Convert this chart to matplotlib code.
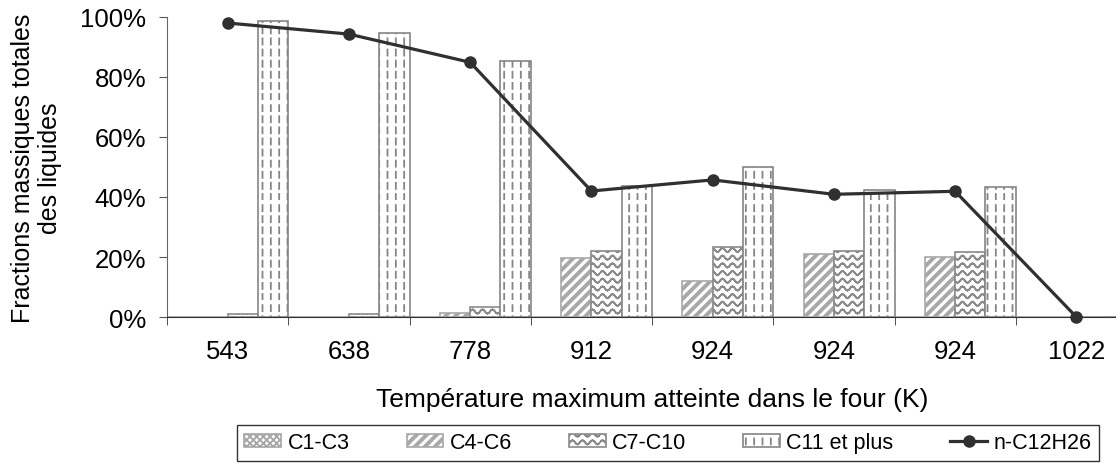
import warnings
import numpy as np
import matplotlib
matplotlib.use('Agg')
from matplotlib import pyplot as plt
from matplotlib import hatch as mhatch
from matplotlib.path import Path
from matplotlib.ticker import PercentFormatter, FixedLocator

warnings.filterwarnings('ignore')

# data
temps = ['543', '638', '778', '912', '924', '924', '924', '1022']
c1_c3 = [0, 0, 0, 0, 0, 0, 0, 0]
c4_c6 = [0, 0, 0.012, 0.196, 0.121, 0.21, 0.201, 0]
c7_c10 = [0.01, 0.01, 0.034, 0.221, 0.232, 0.219, 0.217, 0]
c11 = [0.987, 0.948, 0.853, 0.438, 0.501, 0.423, 0.434, 0]
n_c12 = [0.98, 0.943, 0.849, 0.42, 0.457, 0.409, 0.419, 0.0]


# custom hatches: wavy lines, dashed verticals, thick diagonal stripes
class SegHatch(mhatch.HatchPatternBase):
    char = '?'

    def __init__(self, hatch, density):
        if self.char in hatch:
            self.segs = self.make()
        else:
            self.segs = np.zeros((0, 2, 2))
        self.num_vertices = len(self.segs) * 2

    def set_vertices_and_codes(self, vertices, codes):
        vertices[:] = self.segs.reshape(-1, 2)
        codes[0::2] = Path.MOVETO
        codes[1::2] = Path.LINETO


class WaveHatch(SegHatch):
    char = '~'

    def make(self):
        rows, per, k = 13, 10, 8
        xs = np.linspace(0, 1, per * k + 1)
        out = []
        for i in range(rows):
            ys = (i + 0.5) / rows + 0.02 * np.sin(2 * np.pi * per * xs)
            pts = np.column_stack([xs, ys])
            out.append(np.stack([pts[:-1], pts[1:]], axis=1))
        return np.concatenate(out)


class DashHatch(SegHatch):
    char = ':'

    def make(self):
        cols, rows = 12, 9
        out = []
        for i in range(cols):
            x = (i + 0.5) / cols
            for j in range(rows):
                y = j / rows
                out.append([[x, y], [x, y + 0.06]])
        return np.array(out)


class StripeHatch(mhatch.HatchPatternBase):
    def __init__(self, hatch, density):
        self.on = 'S' in hatch
        self.n = 10
        self.w = 0.03
        self.num_vertices = (2 * self.n + 1) * 5 if self.on else 0

    def set_vertices_and_codes(self, vertices, codes):
        v = []
        for k in range(-self.n, self.n + 1):
            c = k / self.n
            v += [[c, 0], [c + 1, 1], [c + 1 + self.w, 1], [c + self.w, 0], [c, 0]]
        vertices[:] = np.array(v)
        codes[:] = np.tile([Path.MOVETO, Path.LINETO, Path.LINETO,
                            Path.LINETO, Path.CLOSEPOLY], 2 * self.n + 1)


mhatch._hatch_types.extend([WaveHatch, DashHatch, StripeHatch])

plt.rcParams['font.family'] = ['Liberation Sans', 'DejaVu Sans']
plt.rcParams['hatch.linewidth'] = 1.3

fig = plt.figure(figsize=(11.16, 4.64), dpi=100)
ax = fig.add_axes([167 / 1116, 146 / 464, 970 / 1116, 300 / 464])

x = np.arange(len(temps))
w = 0.25
series = [
    (c1_c3, 'C1-C3', 'xxxxx', '#a5a5a5'),
    (c4_c6, 'C4-C6', 'S', '#a8a8a8'),
    (c7_c10, 'C7-C10', '~', '#8a8a8a'),
    (c11, 'C11 et plus', ':', '#858585'),
]
handles = []
for i, (vals, lab, h, col) in enumerate(series):
    b = ax.bar(x + (i - 1.5) * w, vals, w, facecolor='white', edgecolor=col,
               hatch=h, linewidth=1.2, label=lab, zorder=2)
    handles.append(b)

ln, = ax.plot(x, n_c12, '-o', color='#303030', lw=2.3, ms=8,
              label='n-C12H26', zorder=4, clip_on=False)
handles.append(ln)

ax.set_xlim(-0.5, len(temps) - 0.5)
ax.set_ylim(0, 1)
ax.yaxis.set_major_formatter(PercentFormatter(1.0, decimals=0))
ax.set_yticks(np.arange(0, 1.01, 0.2))
ax.set_xticks(x)
ax.set_xticklabels(temps)
ax.xaxis.set_minor_locator(FixedLocator(np.arange(-0.5, len(temps), 1)))
ax.tick_params(axis='x', which='major', length=0, pad=16, labelsize=18.5)
ax.tick_params(axis='x', which='minor', length=6, color='#333333')
ax.tick_params(axis='y', length=6, pad=9, labelsize=18.5, color='#555555')

for s in ['top', 'right']:
    ax.spines[s].set_visible(False)
ax.spines['left'].set_color('#666666')
ax.spines['bottom'].set_color('#333333')

ax.set_xlabel('Température maximum atteinte dans le four (K)', fontsize=19)
ax.xaxis.set_label_coords(0.5, -0.232)
ax.set_ylabel('Fractions massiques totales\ndes liquides', fontsize=18,
              linespacing=1.15)
ax.yaxis.set_label_coords(-0.108, 0.5)

leg = fig.legend(handles=handles, loc='lower center', ncol=5,
                 bbox_to_anchor=(668 / 1116, 0.0), fontsize=15.5,
                 frameon=True, fancybox=False, edgecolor='black',
                 handlelength=1.7, handleheight=0.55, handletextpad=0.3,
                 columnspacing=2.65, borderpad=0.35, borderaxespad=0.1)
leg.get_frame().set_linewidth(1.0)

fig.savefig('out.png', dpi=100)
